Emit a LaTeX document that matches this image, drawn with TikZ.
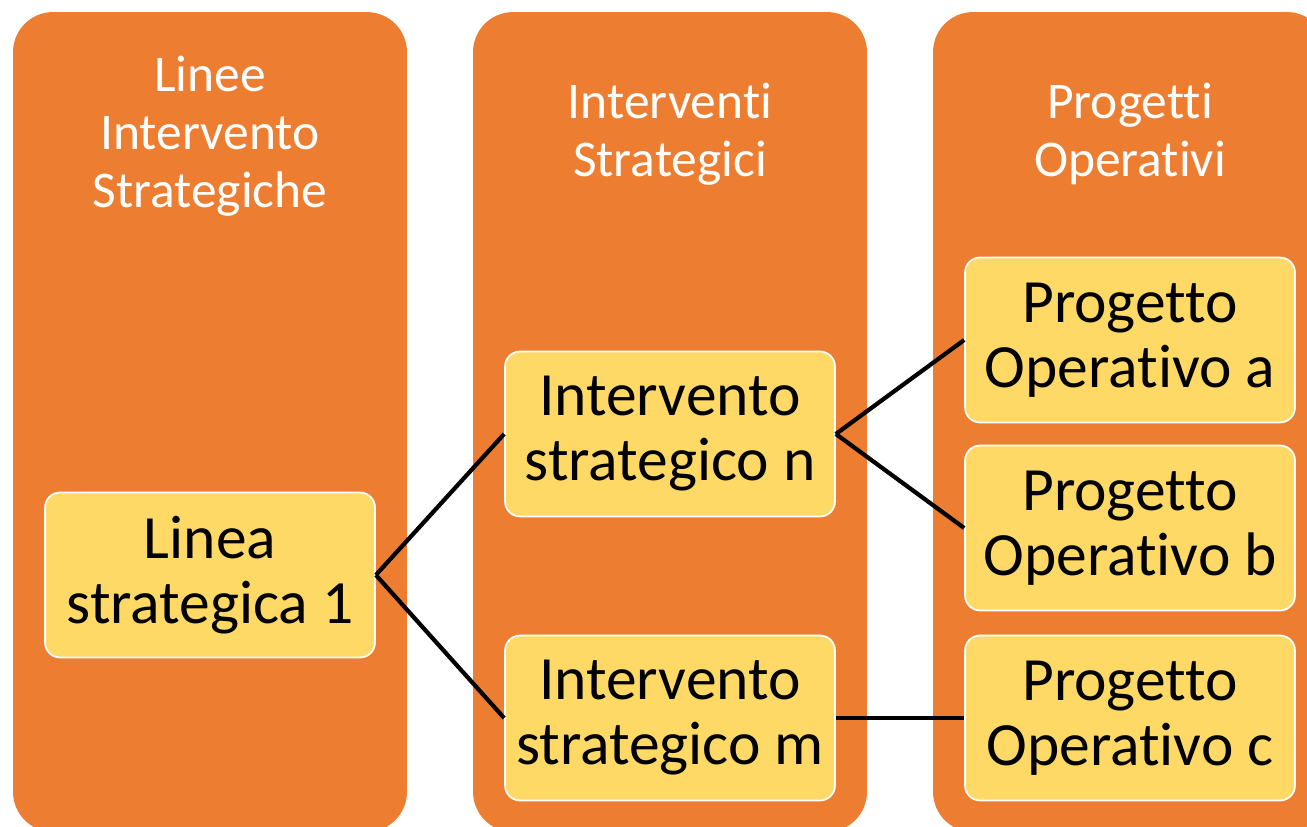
\documentclass[tikz,border=0pt]{standalone}
\usepackage{fontspec}
\setmainfont{Carlito}[Ligatures={NoCommon}]
\usepackage{xcolor}
\usetikzlibrary{positioning}
\definecolor{lanecol}{HTML}{ED7D31}
\definecolor{boxcol}{HTML}{FFD966}

\begin{document}
\begin{tikzpicture}[x=0.02cm, y=-0.02cm,
    lane/.style = {fill=lanecol, rounded corners=0.8cm, minimum width=7.88cm, minimum height=16.4cm},% columns
    head/.style = {text=white, align=center, font=\fontsize{29.3}{33}\selectfont},% column titles
     box/.style = {draw=white, line width=1pt, fill=boxcol, rounded corners=0.3cm,
                   minimum width=6.6cm, minimum height=3.3cm, align=center,
                   font=\fontsize{35}{37}\selectfont},% yellow nodes
    link/.style = {line width=2.4pt}
    ]
    \clip (0,0) rectangle (1307,827);
    % columns
    \node (lane1) [lane] at (210,422) {};
    \node (lane2) [lane] at (670,422) {};
    \node (lane3) [lane] at (1130,422) {};
    \node (head1) [head] at (210,136) {Linee\\Intervento\\Strategiche};
    \node (head2) [head] at (670,134) {Interventi\\Strategici};
    \node (head3) [head] at (1130,134) {Progetti\\Operativi};
    % boxes
    \node (lin1) [box] at (210,575) {Linea\\strategica 1};
    \node (intn) [box] at (670,434) {Intervento\\strategico n};
    \node (intm) [box] at (670,718) {Intervento\\strategico m};
    \node (proa) [box] at (1130,340) {Progetto\\Operativo a};
    \node (prob) [box] at (1130,528) {Progetto\\Operativo b};
    \node (proc) [box] at (1130,718) {Progetto\\Operativo c};
    % links
    \draw[link] (lin1.east) -- (intn.west);
    \draw[link] (lin1.east) -- (intm.west);
    \draw[link] (intn.east) -- (proa.west);
    \draw[link] (intn.east) -- (prob.west);
    \draw[link] (intm.east) -- (proc.west);
\end{tikzpicture}
\end{document}
